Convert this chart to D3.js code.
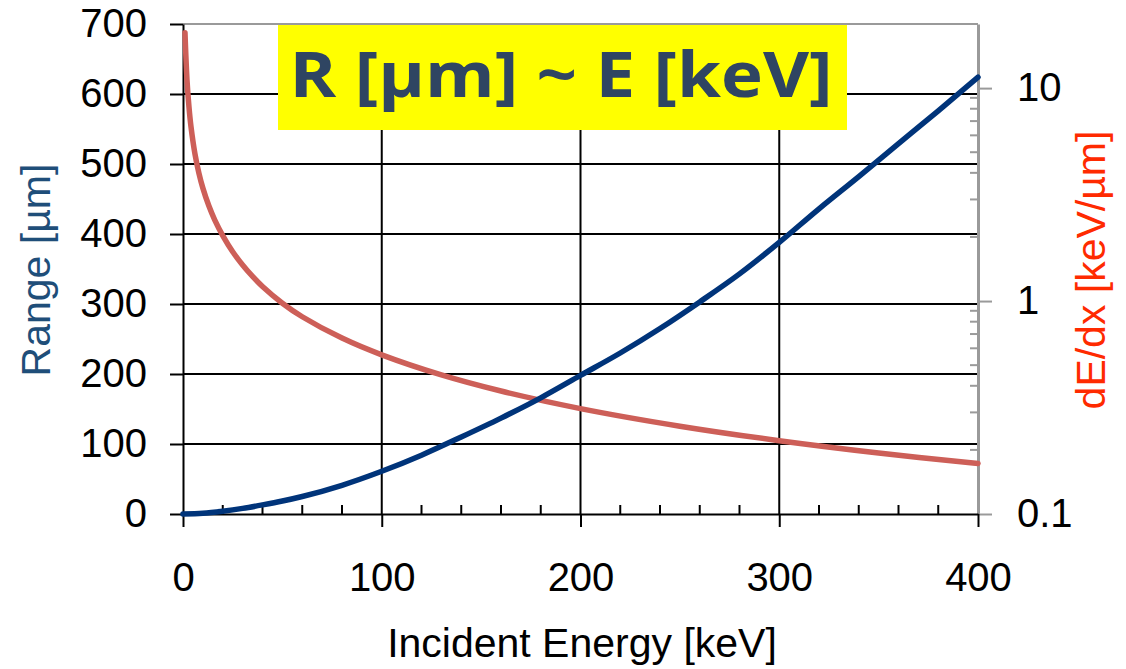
<!DOCTYPE html>
<html>
<head>
<meta charset="utf-8">
<script src="https://cdn.jsdelivr.net/npm/d3@7"></script>
<style>
  html, body { margin: 0; padding: 0; background: #ffffff; }
  svg { display: block; }
  text { font-family: "Liberation Sans", Arial, sans-serif; }
</style>
</head>
<body>
<svg id="chart" width="1126" height="669"></svg>
<script>
// ---- data ----
const energyRange = [0, 10, 20, 30, 40, 50, 60, 80, 100, 120, 140, 160, 180, 200, 220, 240, 260, 280, 300, 320, 340, 360, 380, 400];
const rangeUm     = [0, 1, 4, 8, 13, 18.5, 25, 41, 61, 84, 110, 137, 166, 198, 230, 265, 303, 343, 388, 436, 482, 529, 576, 624];

const energyDedx = [1, 2, 3, 4, 6, 8, 10, 13, 16, 20, 25, 30, 35, 40, 50, 60, 80, 100, 130, 160, 200, 250, 300, 350, 400];
const dedx       = [18.2, 10.97, 8.17, 6.61, 4.92, 3.99, 3.39, 2.80, 2.40, 2.03, 1.705, 1.476, 1.305, 1.171, 0.977, 0.844, 0.670, 0.559, 0.450, 0.378, 0.3126, 0.2585, 0.221, 0.1935, 0.1725];

const xTicks      = [0, 100, 200, 300, 400];
const xMinorTicks = [20, 40, 60, 80, 120, 140, 160, 180, 220, 240, 260, 280, 320, 340, 360, 380];
const yLeftTicks  = [0, 100, 200, 300, 400, 500, 600, 700];
const yRightTicks = [0.1, 1, 10];
const yRightMinor = [0.2, 0.3, 0.4, 0.5, 0.6, 0.7, 0.8, 0.9, 2, 3, 4, 5, 6, 7, 8, 9];

const titleText  = "R [µm] ~ E [keV]";
const xTitle     = "Incident Energy [keV]";
const yLeftTitle = "Range [µm]";
const yRightTitle= "dE/dx [keV/µm]";

// ---- layout ----
const L = 183, R = 978, T = 24, B = 514;
const svg = d3.select("#chart");

const x  = d3.scaleLinear().domain([0, 400]).range([L, R]);
const yL = d3.scaleLinear().domain([0, 700]).range([B, T]);
const yR = d3.scaleLog().domain([0.1, 20]).range([B, T]);

// gridlines
const grid = svg.append("g");
grid.selectAll("line.h").data(yLeftTicks.filter(d => d > 0 && d < 700)).join("line")
  .attr("x1", L).attr("x2", R).attr("y1", d => yL(d)).attr("y2", d => yL(d))
  .attr("stroke", "#000").attr("stroke-width", 2);
grid.selectAll("line.v").data(xTicks.filter(d => d > 0 && d < 400)).join("line")
  .attr("y1", T).attr("y2", B).attr("x1", d => x(d)).attr("x2", d => x(d))
  .attr("stroke", "#000").attr("stroke-width", 2);

// top border (gray)
svg.append("line").attr("x1", L).attr("x2", R).attr("y1", T).attr("y2", T)
  .attr("stroke", "#9a9a9a").attr("stroke-width", 2);

// right axis (gray)
const rAxis = svg.append("g").attr("transform", `translate(${R},0)`)
  .call(d3.axisRight(yR).tickValues(yRightTicks).tickFormat(d3.format("~g"))
    .tickSize(14).tickPadding(25).tickSizeOuter(0));
rAxis.select(".domain").attr("stroke", "#9a9a9a").attr("stroke-width", 3);
rAxis.selectAll(".tick line").attr("stroke", "#9a9a9a").attr("stroke-width", 2);
rAxis.selectAll(".tick text").attr("fill", "#000").style("font-size", "40px")
  .style("font-family", "'Liberation Sans', Arial, sans-serif");
svg.append("g").selectAll("line").data(yRightMinor).join("line")
  .attr("x1", R - 8).attr("x2", R).attr("y1", d => yR(d)).attr("y2", d => yR(d))
  .attr("stroke", "#9a9a9a").attr("stroke-width", 2);

// left axis
const lAxis = svg.append("g").attr("transform", `translate(${L},0)`)
  .call(d3.axisLeft(yL).tickValues(yLeftTicks).tickSize(13).tickPadding(23).tickSizeOuter(0));
lAxis.select(".domain").attr("stroke", "#000").attr("stroke-width", 2);
lAxis.selectAll(".tick line").attr("stroke", "#000").attr("stroke-width", 2);
lAxis.selectAll(".tick text").attr("fill", "#000").style("font-size", "40px")
  .style("font-family", "'Liberation Sans', Arial, sans-serif");

// bottom axis
const bAxis = svg.append("g").attr("transform", `translate(0,${B})`)
  .call(d3.axisBottom(x).tickValues(xTicks).tickSize(13).tickPadding(36).tickSizeOuter(0));
bAxis.select(".domain").attr("stroke", "#000").attr("stroke-width", 2);
bAxis.selectAll(".tick line").attr("stroke", "#000").attr("stroke-width", 2);
bAxis.selectAll(".tick text").attr("fill", "#000").style("font-size", "40px")
  .style("font-family", "'Liberation Sans', Arial, sans-serif");
svg.append("g").selectAll("line").data(xMinorTicks).join("line")
  .attr("x1", d => x(d)).attr("x2", d => x(d)).attr("y1", B - 9).attr("y2", B)
  .attr("stroke", "#000").attr("stroke-width", 2);

// curves
const lineR = d3.line().x((d, i) => x(energyRange[i])).y(d => yL(d)).curve(d3.curveMonotoneX);
const lineD = d3.line().x((d, i) => x(energyDedx[i])).y(d => yR(d)).curve(d3.curveCatmullRom.alpha(0.5));

svg.append("path").datum(dedx).attr("d", lineD)
  .attr("fill", "none").attr("stroke", "#cd5f58").attr("stroke-width", 5.5)
  .attr("stroke-linejoin", "round").attr("stroke-linecap", "round");
svg.append("path").datum(rangeUm).attr("d", lineR)
  .attr("fill", "none").attr("stroke", "#00347a").attr("stroke-width", 5.5)
  .attr("stroke-linejoin", "round").attr("stroke-linecap", "round");

// title box
svg.append("rect").attr("x", 278).attr("y", 25).attr("width", 569).attr("height", 105)
  .attr("fill", "#ffff00");
svg.append("text").attr("x", 561).attr("y", 97).attr("text-anchor", "middle")
  .attr("textLength", 543).attr("lengthAdjust", "spacingAndGlyphs")
  .style("font-family", "'Open Sans', 'Noto Sans', sans-serif").style("font-weight", "700")
  .style("font-size", "62px").attr("fill", "#2f4562").text(titleText);

// axis titles
svg.append("text").attr("x", 582).attr("y", 657).attr("text-anchor", "middle")
  .style("font-size", "41px").attr("fill", "#000").text(xTitle);
svg.append("text").attr("transform", "translate(50,270) rotate(-90)").attr("text-anchor", "middle")
  .style("font-size", "41px").attr("fill", "#1f4e79").text(yLeftTitle);
svg.append("text").attr("transform", "translate(1105,270) rotate(-90)").attr("text-anchor", "middle")
  .style("font-size", "41px").attr("fill", "#ff2a00").text(yRightTitle);
</script>
</body>
</html>
